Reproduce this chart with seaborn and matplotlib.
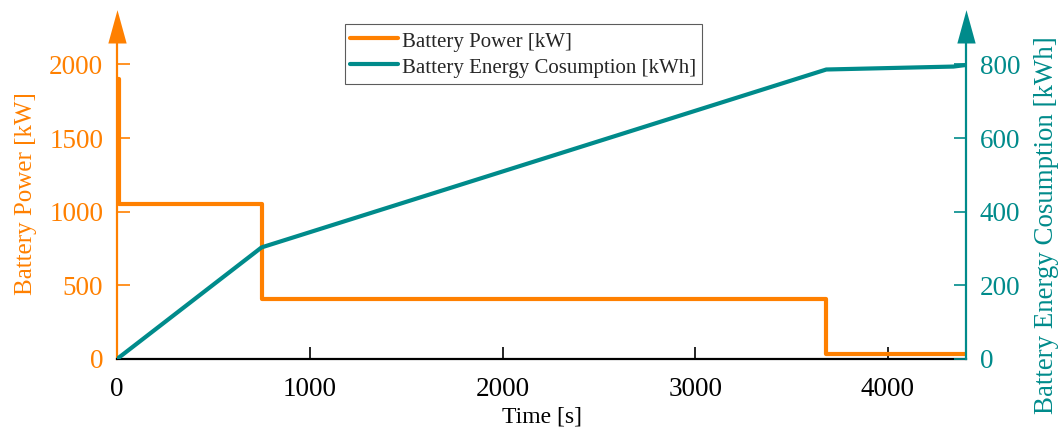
import matplotlib
matplotlib.use("Agg")
import matplotlib.pyplot as plt
import numpy as np
import pandas as pd
import seaborn as sns

# Battery power profile (step changes, held until the next breakpoint)
power_time = [0, 10, 750, 3680, 4400]          # s
power_kw = [1900, 1050, 405, 35, 35]           # kW

# Cumulative battery energy consumption
energy_time = [0, 750, 3680, 4340, 4400]       # s
energy_kwh = [0, 303, 786, 794, 798]           # kWh

x_ticks = [0, 1000, 2000, 3000, 4000]
power_ticks = [0, 500, 1000, 1500, 2000]
energy_ticks = [0, 200, 400, 600, 800]

ORANGE = "#FF8000"
TEAL = "#008B8B"

sns.set_style("white")
plt.rcParams["font.family"] = ["Liberation Serif", "DejaVu Serif"]
plt.rcParams["mathtext.fontset"] = "stix"

power_df = pd.DataFrame({"Time [s]": power_time, "Battery Power [kW]": power_kw})
energy_df = pd.DataFrame({"Time [s]": energy_time,
                          "Battery Energy Cosumption [kWh]": energy_kwh})

fig = plt.figure(figsize=(10.61, 4.29), dpi=100)
ax = fig.add_axes([0.1103, 0.1632, 0.8002, 0.7366])
ax2 = ax.twinx()

sns.lineplot(data=power_df, x="Time [s]", y="Battery Power [kW]", ax=ax,
             color=ORANGE, linewidth=3, drawstyle="steps-post",
             estimator=None, sort=False, label="Battery Power [kW]", legend=False)
sns.lineplot(data=energy_df, x="Time [s]", y="Battery Energy Cosumption [kWh]", ax=ax2,
             color=TEAL, linewidth=3, estimator=None, sort=False,
             label="Battery Energy Cosumption [kWh]", legend=False)

ax.set_xlim(0, 4405)
ax.set_ylim(0, 2145)
ax2.set_ylim(0, 858)

ax.set_xticks(x_ticks)
ax.set_yticks(power_ticks)
ax2.set_yticks(energy_ticks)

tick_fs = 19.5
ax.tick_params(axis="x", direction="in", length=9, width=1.2, colors="black",
               labelsize=tick_fs, pad=13, bottom=True)
ax.tick_params(axis="y", direction="in", length=9, width=1.2, colors=ORANGE,
               labelsize=tick_fs, pad=10, left=True)
ax2.tick_params(axis="y", direction="in", length=9, width=1.2, colors=TEAL,
                labelsize=tick_fs, pad=10, right=True)

ax.set_xlabel("Time [s]", fontsize=17, color="black", labelpad=3)
ax.set_ylabel("Battery Power [kW]", fontsize=18, color=ORANGE, labelpad=9)
ax2.set_ylabel("Battery Energy Cosumption [kWh]", fontsize=19.4, color=TEAL, labelpad=10)
ax.yaxis.label.set_y(0.525)
ax2.yaxis.label.set_y(0.424)

for a in (ax, ax2):
    a.spines["top"].set_visible(False)
    for s in a.spines.values():
        s.set_linewidth(1.6)
ax.spines["right"].set_visible(False)
ax2.spines["left"].set_visible(False)
ax2.spines["bottom"].set_visible(False)
ax.spines["left"].set_color(ORANGE)
ax.spines["bottom"].set_color("black")
ax2.spines["right"].set_color(TEAL)

# Arrow heads at the top of both vertical axes
arrow = [(-0.55, 0.0), (0.55, 0.0), (0.0, 2.0), (-0.55, 0.0)]
ax.plot([0], [1], transform=ax.transAxes, marker=arrow, markersize=48,
        color=ORANGE, markeredgewidth=0, clip_on=False, zorder=5)
ax2.plot([1], [1], transform=ax2.transAxes, marker=arrow, markersize=48,
         color=TEAL, markeredgewidth=0, clip_on=False, zorder=5)

handles = ax.get_lines()[:1] + ax2.get_lines()[:1]
leg = ax2.legend(handles, [h.get_label() for h in handles],
                 loc="upper left", bbox_to_anchor=(345 / 1061, 1 - 24 / 429),
                 bbox_transform=fig.transFigure, fontsize=15, frameon=True,
                 fancybox=False, handlelength=2.3, handletextpad=0.2,
                 handleheight=1.25, borderpad=0.25, borderaxespad=0,
                 labelspacing=0.15)
leg.get_frame().set_edgecolor("#333333")
leg.get_frame().set_linewidth(0.8)

fig.savefig("out.png", dpi=100)
